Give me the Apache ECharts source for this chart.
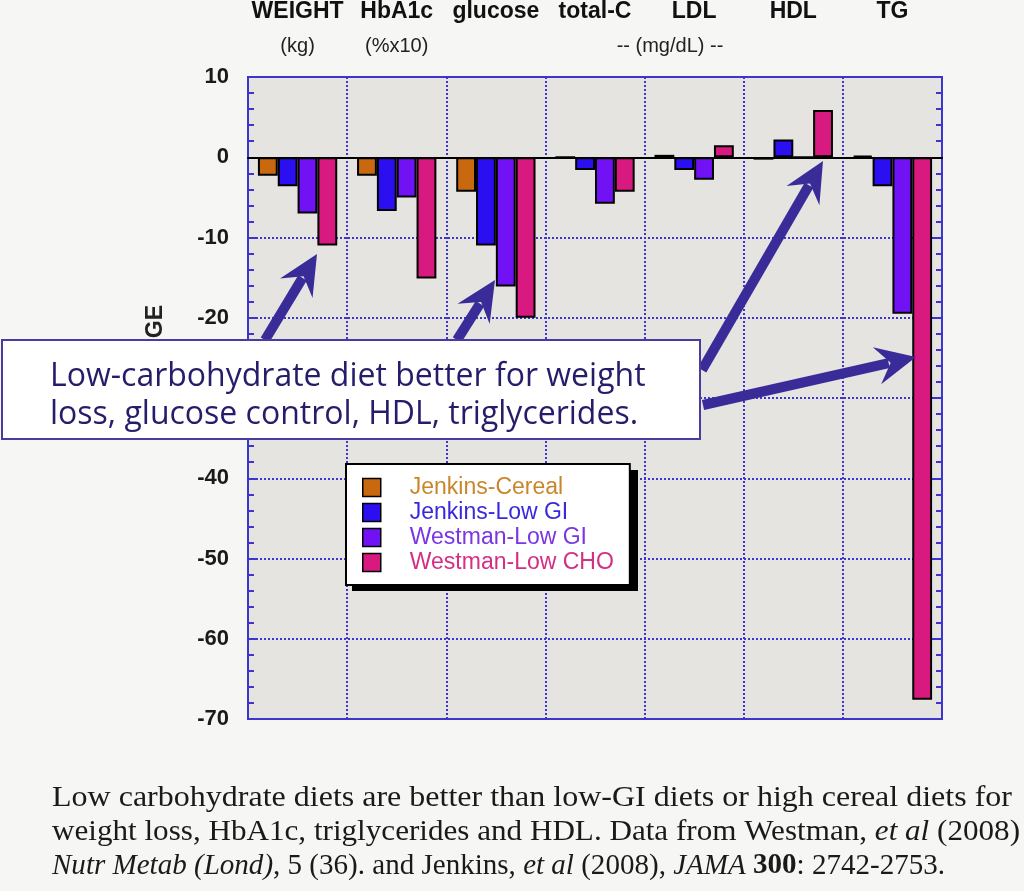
<!DOCTYPE html>
<html>
<head>
<meta charset="utf-8">
<script src="https://cdn.jsdelivr.net/npm/echarts@6.0.0/dist/echarts.min.js"></script>
<style>
html, body { margin: 0; padding: 0; background: #f6f6f4; }
#main { width: 1024px; height: 891px; }
</style>
</head>
<body>
<div id="main"></div>
<script>
// categories and units (top labels)
var categories = ['WEIGHT', 'HbA1c', 'glucose', 'total-C', 'LDL', 'HDL', 'TG'];
var units = ['(kg)', '(%x10)', '', '', '', '', ''];
var yTicks = [10, 0, -10, -20, -30, -40, -50, -60, -70];

// series values
var jenkinsCereal = [-2.3, -2.3, -4.3, 0, 0.3, -0.3, 0.2];
var jenkinsLowGI = [-3.6, -6.7, -11.0, -1.6, -1.6, 2.2, -3.6];
var westmanLowGI = [-7.0, -5.0, -16.1, -5.8, -2.8, 0, -19.5];
var westmanLowCHO = [-11.0, -15.1, -20.0, -4.3, 1.5, 5.9, -67.6];

var seriesNames = ['Jenkins-Cereal', 'Jenkins-Low GI', 'Westman-Low GI', 'Westman-Low CHO'];
var barColors = ['#c8690f', '#2b0ff0', '#7012f3', '#d8197f'];
var textColors = ['#c9862c', '#3a28dc', '#7b35e2', '#d42f84'];

var gridBlue = '#3d35cc';
var arrowCol = '#3a2c98';

// annotation arrow: shaft + notched head
function arrow(x1, y1, x2, y2) {
	var dx = x2 - x1, dy = y2 - y1;
	var L = Math.sqrt(dx * dx + dy * dy);
	var ux = dx / L, uy = dy / L;
	var nx = -uy, ny = ux;
	var head = 36, hw = 19;
	var bx = x2 - ux * head, by = y2 - uy * head;
	return [{
		type: 'line', z: 100,
		shape: { x1: x1, y1: y1, x2: bx + ux * 8, y2: by + uy * 8 },
		style: { stroke: arrowCol, lineWidth: 10 }
	}, {
		type: 'polygon', z: 100,
		shape: { points: [
			[x2, y2],
			[bx + nx * hw - ux * 4, by + ny * hw - uy * 4],
			[bx + ux * 10, by + uy * 10],
			[bx - nx * hw - ux * 4, by - ny * hw - uy * 4]
		] },
		style: { fill: arrowCol }
	}];
}

// measure a caption line (with {i|..} / {b|..} parts) in px
var measureCtx = document.createElement('canvas').getContext('2d');
function lineWidth(str, size) {
	var w = 0;
	var re = /\{(i|b)\|([^}]*)\}|([^{]+)/g, m;
	while ((m = re.exec(str)) !== null) {
		if (m[3]) {
			measureCtx.font = size + 'px "Liberation Serif"';
			w += measureCtx.measureText(m[3]).width;
		} else {
			measureCtx.font = (m[1] == 'i' ? 'italic ' : 'bold ') + size + 'px "Liberation Serif"';
			w += measureCtx.measureText(m[2]).width;
		}
	}
	return w;
}

var myChart = echarts.init(document.getElementById('main'));

var allData = [jenkinsCereal, jenkinsLowGI, westmanLowGI, westmanLowCHO];
var series = [];
for (var i = 0; i < allData.length; i++) {
	series.push({
		name: seriesNames[i],
		type: 'bar',
		data: allData[i],
		barGap: 0,
		barCategoryGap: '20%',
		itemStyle: { color: barColors[i], borderColor: '#000', borderWidth: 2 },
		z: 3
	});
}

var legendData = [];
for (var j = 0; j < seriesNames.length; j++) {
	legendData.push({ name: seriesNames[j], textStyle: { color: textColors[j] } });
}

var graphics = [];
graphics = graphics.concat(arrow(265, 340, 317, 254));
graphics = graphics.concat(arrow(457, 340, 495, 280));
graphics = graphics.concat(arrow(702, 370, 823, 161));
graphics = graphics.concat(arrow(703, 405, 916, 357));

// legend drop shadow
graphics.push({
	type: 'rect', z: 15,
	shape: { x: 352, y: 470, width: 286, height: 121 },
	style: { fill: '#000' }
});
// y axis title, mostly hidden behind the callout
graphics.push({
	type: 'text', z: 50, x: 156, y: 305, rotation: Math.PI / 2,
	style: { text: 'CHANGE', font: 'bold 23px "Liberation Sans", Arial', fill: '#222', align: 'right', verticalAlign: 'middle' }
});
// callout box
graphics.push({
	type: 'rect', z: 110,
	shape: { x: 2, y: 340, width: 698, height: 99 },
	style: { fill: '#ffffff', stroke: '#4a3c9e', lineWidth: 2 }
});
graphics.push({
	type: 'text', z: 111, x: 50, y: 377,
	style: { text: 'Low-carbohydrate diet better for weight', font: '32px "Open Sans"', fill: '#261d6a', verticalAlign: 'middle' }
});
graphics.push({
	type: 'text', z: 111, x: 50, y: 415,
	style: { text: 'loss, glucose control, HDL, triglycerides.', font: '32px "Open Sans"', fill: '#261d6a', verticalAlign: 'middle' }
});
// shared unit label
graphics.push({
	type: 'text', z: 50, x: 670, y: 46,
	style: { text: '-- (mg/dL) --', font: '20px "Liberation Sans", Arial', fill: '#222', align: 'center', verticalAlign: 'middle' }
});
// caption, each line squeezed to the width it has in the picture
var capSize = 29;
var capRich = {
	i: { fontStyle: 'italic', fontSize: capSize, fontFamily: '"Liberation Serif"', fill: '#1a1a1a' },
	b: { fontWeight: 'bold', fontSize: capSize, fontFamily: '"Liberation Serif"', fill: '#1a1a1a' }
};
var capLines = [
	'Low carbohydrate diets are better than low-GI diets or high cereal diets for',
	'weight loss, HbA1c, triglycerides and HDL. Data from Westman, {i|et al} (2008)',
	'{i|Nutr Metab (Lond)}, 5 (36). and Jenkins, {i|et al} (2008), {i|JAMA} {b|300}: 2742-2753.'
];
var capEnds = [1012, 1020, 945];
for (var k = 0; k < capLines.length; k++) {
	var sx = (capEnds[k] - 52) / lineWidth(capLines[k], capSize);
	graphics.push({
		type: 'text', z: 50, x: 52, y: 798 + k * 34, scaleX: sx,
		style: { text: capLines[k], font: capSize + 'px "Liberation Serif", serif', fill: '#1a1a1a', verticalAlign: 'middle', rich: capRich }
	});
}

var option = {
	backgroundColor: '#f6f6f4',
	animation: false,
	grid: {
		left: 248, right: 82, top: 77, bottom: 172,
		show: true, backgroundColor: '#e6e4e1', borderColor: gridBlue, borderWidth: 2
	},
	legend: {
		orient: 'vertical',
		left: 346, top: 464,
		data: legendData,
		icon: 'rect',
		itemWidth: 18, itemHeight: 18, itemGap: 0,
		padding: [11, 16, 10, 16],
		backgroundColor: '#ffffff',
		borderColor: '#000', borderWidth: 2,
		itemStyle: { borderColor: '#000', borderWidth: 1.5 },
		textStyle: { fontSize: 23, lineHeight: 25, fontFamily: '"Liberation Sans", Arial', padding: [0, 0, 0, 24] },
		z: 20
	},
	xAxis: [{
		type: 'category',
		data: categories,
		position: 'bottom',
		axisLine: { onZero: true, lineStyle: { color: '#000', width: 2 } },
		axisTick: { show: false },
		axisLabel: { show: false },
		splitLine: { show: true, interval: 0, lineStyle: { color: gridBlue, width: 2, type: [2, 2] } },
		z: 5
	}, {
		type: 'category',
		data: categories,
		position: 'top',
		axisLine: { show: false },
		axisTick: { show: false },
		axisLabel: {
			interval: 0,
			margin: 14,
			formatter: function(v, idx) {
				return '{a|' + v + '}\n{b|' + (units[idx] || ' ') + '}';
			},
			rich: {
				a: { fontSize: 23, fontWeight: 'bold', fontFamily: '"Liberation Sans", Arial', color: '#111', lineHeight: 34 },
				b: { fontSize: 20, fontFamily: '"Liberation Sans", Arial', color: '#222', lineHeight: 34 }
			}
		}
	}],
	yAxis: [{
		type: 'value',
		min: yTicks[yTicks.length - 1], max: yTicks[0], interval: 10,
		axisLine: { show: true, lineStyle: { color: gridBlue, width: 2 } },
		axisTick: { show: true, inside: true, length: 8, lineStyle: { color: gridBlue, width: 2 } },
		minorTick: { show: true, splitNumber: 5, length: 6, lineStyle: { color: gridBlue, width: 2 } },
		axisLabel: { margin: 19, fontSize: 22, fontWeight: 'bold', fontFamily: '"Liberation Sans", Arial', color: '#1a1a1a' },
		splitLine: { show: true, lineStyle: { color: gridBlue, width: 2, type: [2, 2] } }
	}, {
		type: 'value',
		position: 'right',
		min: yTicks[yTicks.length - 1], max: yTicks[0], interval: 10,
		axisLine: { show: true, lineStyle: { color: gridBlue, width: 2 } },
		axisTick: { show: true, inside: true, length: 8, lineStyle: { color: gridBlue, width: 2 } },
		minorTick: { show: true, splitNumber: 5, length: 6, lineStyle: { color: gridBlue, width: 2 } },
		axisLabel: { show: false },
		splitLine: { show: false }
	}],
	series: series,
	graphic: graphics
};

myChart.setOption(option);
</script>
</body>
</html>
